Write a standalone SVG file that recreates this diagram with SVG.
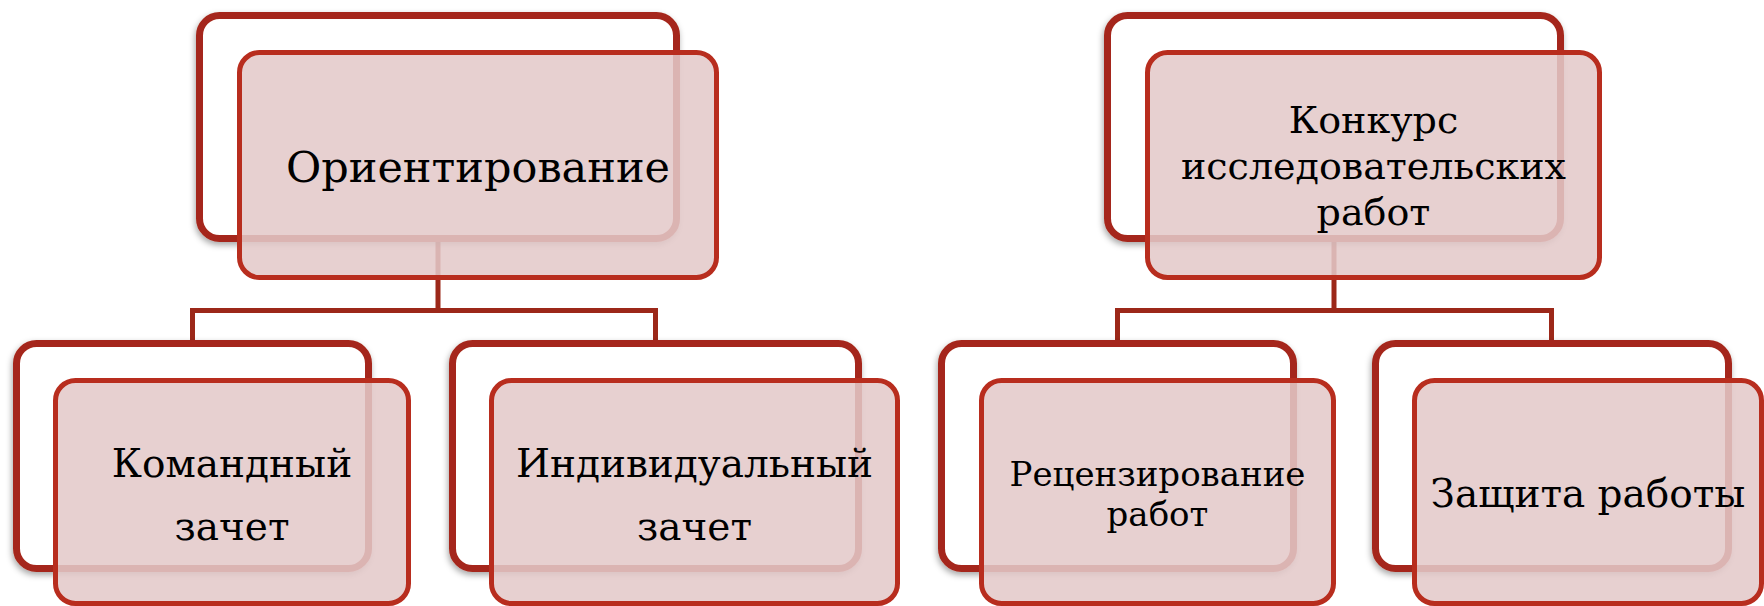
<svg xmlns="http://www.w3.org/2000/svg" width="1764" height="606" viewBox="0 0 1764 606">
<defs>
<filter id="sh" x="-10%" y="-10%" width="120%" height="130%">
<feDropShadow dx="-1" dy="3" stdDeviation="3" flood-color="#000" flood-opacity="0.35"/>
</filter>
<style>
.back{fill:#ffffff;stroke:#a5281a;stroke-width:7;filter:url(#sh)}
.front{fill:#e3c9c9;fill-opacity:0.87;stroke:#b82d1e;stroke-width:5}
.conn{fill:none;stroke:#9c2819;stroke-width:5;stroke-linejoin:miter}
text{font-family:"DejaVu Serif","Liberation Serif",serif;fill:#000;text-anchor:middle}
.t1{font-size:43px}
.t2{font-size:38px}
.t4{font-size:39px}
.t3{font-size:34px}
</style>
</defs>
<rect width="1764" height="606" fill="#ffffff"/>
<g id="connectors">
<path class="conn" d="M438,238.5 V310.5 M192.5,343.5 V310.5 H655.5 V343.5"/>
<path class="conn" d="M1334,238.5 V310.5 M1117.5,343.5 V310.5 H1551.5 V343.5"/>
</g>
<g id="orientirovanie">
<rect class="back" x="199.5" y="15.5" width="477" height="223" rx="20"/>
<rect class="front" x="239.5" y="52.5" width="477" height="225" rx="20"/>
<text class="t1" x="478" y="182">Ориентирование</text>
</g>
<g id="komandny">
<rect class="back" x="16.5" y="343.5" width="352" height="225" rx="20"/>
<rect class="front" x="55.5" y="380.5" width="353" height="223" rx="20"/>
<text class="t4" x="232" y="477">Командный</text>
<text class="t4" x="232" y="540">зачет</text>
</g>
<g id="individualny">
<rect class="back" x="452.5" y="343.5" width="406" height="225" rx="20"/>
<rect class="front" x="491.5" y="380.5" width="406" height="223" rx="20"/>
<text class="t4" x="694.5" y="477">Индивидуальный</text>
<text class="t4" x="694.5" y="540">зачет</text>
</g>
<g id="konkurs">
<rect class="back" x="1107.5" y="15.5" width="453" height="223" rx="20"/>
<rect class="front" x="1147.5" y="52.5" width="452" height="225" rx="20"/>
<text class="t2" x="1373.5" y="133">Конкурс</text>
<text class="t2" x="1373.5" y="179">исследовательских</text>
<text class="t2" x="1373.5" y="224.5">работ</text>
</g>
<g id="recenzirovanie">
<rect class="back" x="941.5" y="343.5" width="352" height="225" rx="20"/>
<rect class="front" x="981.5" y="380.5" width="352" height="223" rx="20"/>
<text class="t3" x="1157.5" y="486">Рецензирование</text>
<text class="t3" x="1157.5" y="526">работ</text>
</g>
<g id="zashchita">
<rect class="back" x="1375.5" y="343.5" width="353" height="225" rx="20"/>
<rect class="front" x="1414.5" y="380.5" width="347" height="223" rx="20"/>
<text class="t4" x="1588" y="507">Защита работы</text>
</g>
</svg>
